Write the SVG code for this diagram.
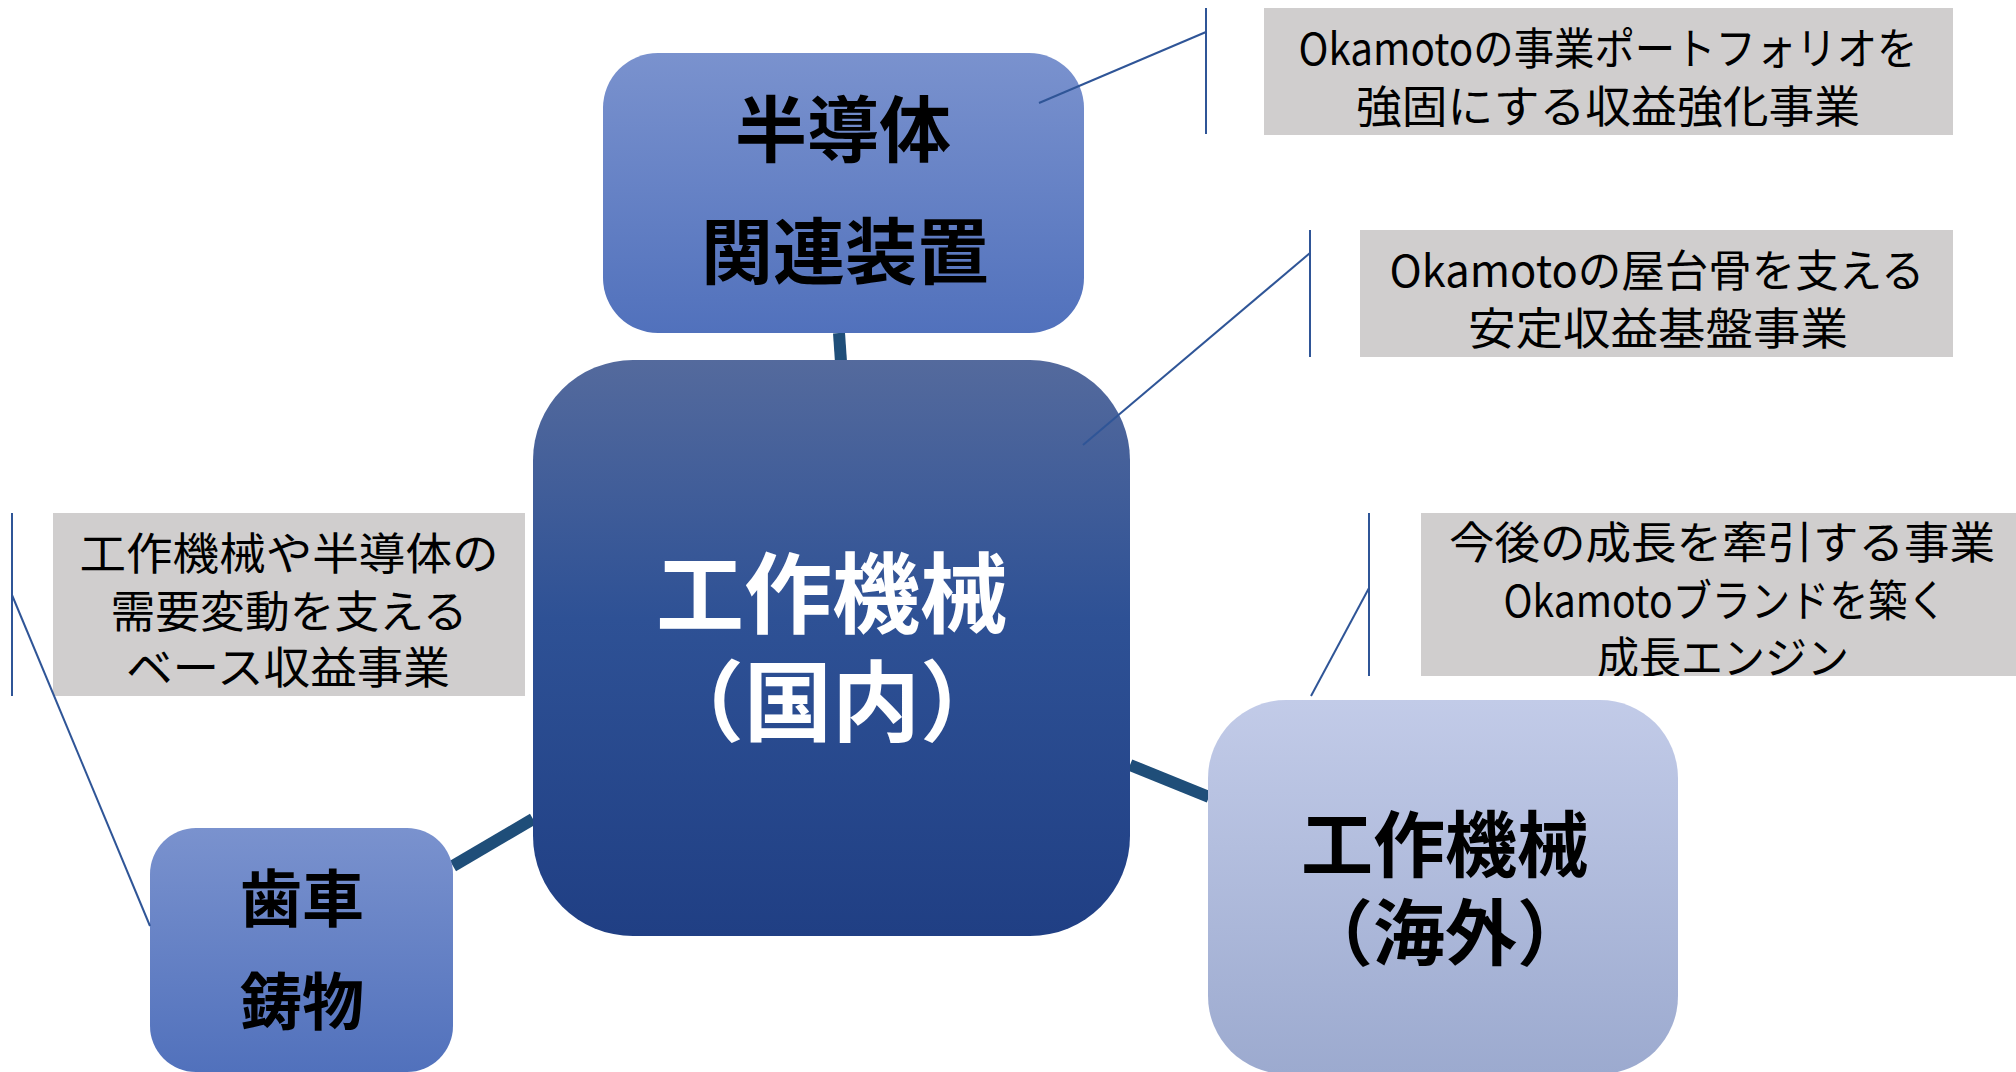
<svg xmlns="http://www.w3.org/2000/svg" width="2016" height="1072" viewBox="0 0 2016 1072">
<style>
.lbl{font-family:"Noto Sans CJK JP","Noto Sans",sans-serif;font-weight:700;text-anchor:middle}
.note{font-family:"Noto Sans CJK JP","Noto Sans",sans-serif;font-size:44px;fill:#000;text-anchor:middle}
.gray{fill:#D0CECE}
.conn{stroke:#1F4E79;stroke-width:12;fill:none}
.lead{stroke:#2F5597;stroke-width:2;fill:none}
</style>
<defs>
<linearGradient id="gMid" x1="0" y1="0" x2="0" y2="1"><stop offset="0" stop-color="#7A92CE"/><stop offset="1" stop-color="#5171BC"/></linearGradient>
<linearGradient id="gDark" x1="0" y1="0" x2="0" y2="1"><stop offset="0" stop-color="#546A9D"/><stop offset="0.45" stop-color="#2E5195"/><stop offset="1" stop-color="#203F84"/></linearGradient>
<linearGradient id="gLight" x1="0" y1="0" x2="0" y2="1"><stop offset="0" stop-color="#C2CBE8"/><stop offset="1" stop-color="#9CAACF"/></linearGradient>
<clipPath id="clip4"><rect x="1421" y="513" width="595" height="163"/></clipPath>
</defs>
<g id="connectors">
<line class="conn" x1="839" y1="333" x2="841" y2="362"/>
<line class="conn" x1="453" y1="866" x2="533" y2="819"/>
<line class="conn" x1="1130" y1="765" x2="1209" y2="797"/>
</g>
<g id="node-center">
<rect x="533" y="360" width="597" height="576" rx="100" ry="100" fill="url(#gDark)"/>
<text class="lbl" x="832" y="626" font-size="88" fill="#FFFFFF">工作機械</text>
<text class="lbl" x="832" y="734" font-size="88" fill="#FFFFFF">（国内）</text>
</g>
<g id="node-semi">
<rect x="603" y="53" width="481" height="280" rx="55" ry="55" fill="url(#gMid)"/>
<text class="lbl" x="843" y="156" font-size="72" fill="#000">半導体</text>
<text class="lbl" x="845" y="278" font-size="72" fill="#000">関連装置</text>
</g>
<g id="node-gear">
<rect x="150" y="828" width="303" height="244" rx="46" ry="46" fill="url(#gMid)"/>
<text class="lbl" x="302" y="922" font-size="62" fill="#000">歯車</text>
<text class="lbl" x="302" y="1025" font-size="62" fill="#000">鋳物</text>
</g>
<g id="node-overseas">
<rect x="1208" y="700" width="470" height="374" rx="78" ry="78" fill="url(#gLight)"/>
<text class="lbl" x="1445" y="871" font-size="72" fill="#000">工作機械</text>
<text class="lbl" x="1445" y="959" font-size="72" fill="#000">（海外）</text>
</g>
<g id="callout-semi">
<rect class="gray" x="1264" y="8" width="689" height="127"/>
<line class="lead" x1="1206" y1="8" x2="1206" y2="134"/>
<line class="lead" x1="1039" y1="103" x2="1206" y2="32"/>
<text class="note" x="1608" y="65" textLength="619" lengthAdjust="spacingAndGlyphs">Okamotoの事業ポートフォリオを</text>
<text class="note" x="1608" y="123" textLength="504" lengthAdjust="spacingAndGlyphs">強固にする収益強化事業</text>
</g>
<g id="callout-center">
<rect class="gray" x="1360" y="230" width="593" height="127"/>
<line class="lead" x1="1310" y1="230" x2="1310" y2="357"/>
<line class="lead" x1="1083" y1="445" x2="1310" y2="253"/>
<text class="note" x="1657" y="287" textLength="535" lengthAdjust="spacingAndGlyphs">Okamotoの屋台骨を支える</text>
<text class="note" x="1658" y="345" textLength="380" lengthAdjust="spacingAndGlyphs">安定収益基盤事業</text>
</g>
<g id="callout-gear">
<rect class="gray" x="53" y="513" width="472" height="183"/>
<line class="lead" x1="12" y1="513" x2="12" y2="696"/>
<line class="lead" x1="12" y1="595" x2="150" y2="926"/>
<text class="note" x="289" y="570" textLength="419" lengthAdjust="spacingAndGlyphs">工作機械や半導体の</text>
<text class="note" x="289" y="628" textLength="357" lengthAdjust="spacingAndGlyphs">需要変動を支える</text>
<text class="note" x="288" y="684" textLength="324" lengthAdjust="spacingAndGlyphs">ベース収益事業</text>
</g>
<g id="callout-overseas">
<rect class="gray" x="1421" y="513" width="595" height="163"/>
<line class="lead" x1="1369" y1="513" x2="1369" y2="676"/>
<line class="lead" x1="1311" y1="696" x2="1369" y2="588"/>
<text class="note" x="1722" y="559" textLength="546" lengthAdjust="spacingAndGlyphs">今後の成長を牽引する事業</text>
<text class="note" x="1725" y="617" textLength="443" lengthAdjust="spacingAndGlyphs">Okamotoブランドを築く</text>
<text class="note" x="1723" y="674" textLength="252" lengthAdjust="spacingAndGlyphs" clip-path="url(#clip4)">成長エンジン</text>
</g>
</svg>
